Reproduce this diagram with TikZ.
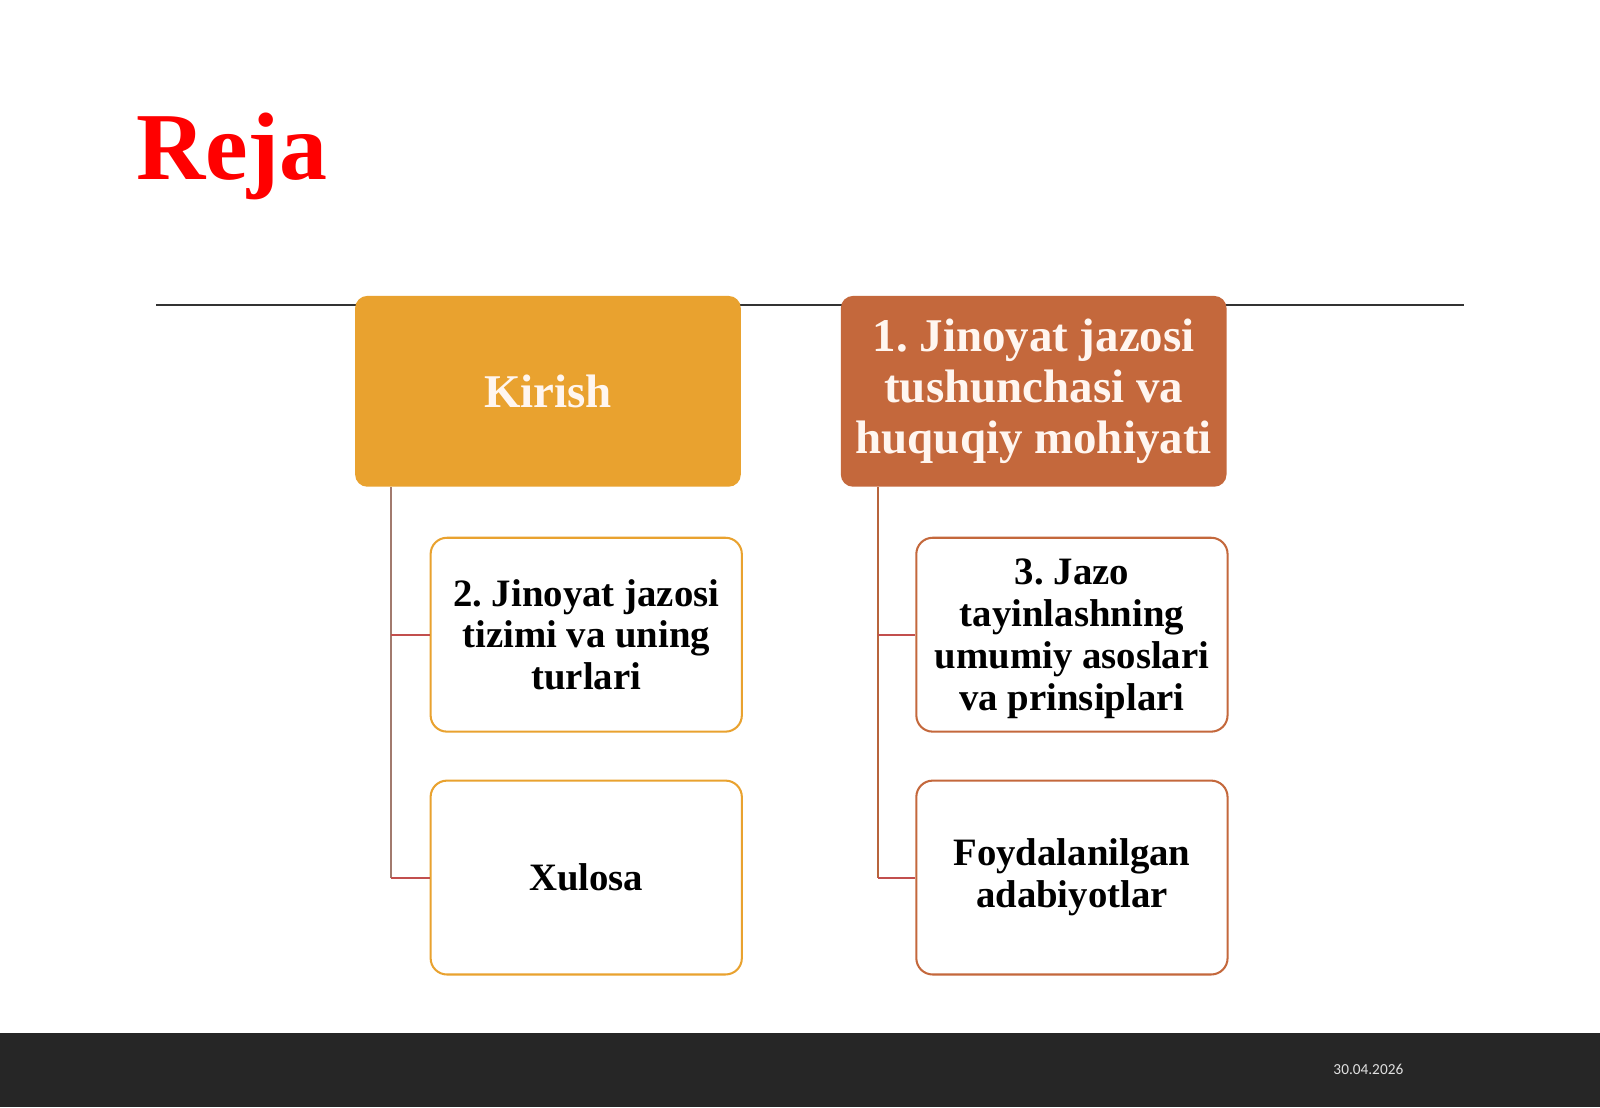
\documentclass[tikz,border=0pt]{standalone}
\usepackage{fontspec}
\setmainfont{Liberation Serif}
\newfontfamily\datefont{Carlito}
\usetikzlibrary{calc}
\definecolor{gold}{HTML}{E9A22F}
\definecolor{rust}{HTML}{C4683C}
\definecolor{lighttext}{HTML}{FFF6F0}
\definecolor{footerbg}{HTML}{262626}
\definecolor{leftvline}{HTML}{A27A6E}
\definecolor{rightvline}{HTML}{B8643C}
\definecolor{branch}{HTML}{C24F4D}
\definecolor{ruleline}{HTML}{333333}
\frenchspacing
\begin{document}
\begin{tikzpicture}[x=0.5pt,y=-0.5pt,
  topbox/.style={rounded corners=6pt, minimum width=189pt, minimum height=93.5pt,
    inner sep=0pt, align=center, text=lighttext,
    font=\fontsize{23}{25}\selectfont\bfseries},
  subbox/.style={rounded corners=8pt, minimum width=152.5pt, minimum height=95pt,
    inner sep=0pt, align=center, fill=white, line width=1pt, text=black,
    font=\fontsize{19}{20.5}\selectfont\bfseries},
  conn/.style={line width=1pt}]
\useasboundingbox (0,0) rectangle (1568,1085);
\fill[white] (0,0) rectangle (1568,1085);
\fill[footerbg] (0,1012) rectangle (1568,1085);
\node[anchor=base west, inner sep=0pt, text=red, font=\fontsize{47}{50}\selectfont\bfseries] (title) at (133,176) {Reja};
\node[text=white!88!black, font=\datefont\fontsize{7.5}{8}\selectfont, inner sep=0pt] (date) at (1341,1048) {30.04.2026};

% rule behind top boxes
\coordinate (rl) at (153,299);
\coordinate (rr) at (1435,299);
\draw[ruleline, line width=1pt] (rl) -- (rr);

\node[topbox, fill=gold] (kir) at (537,383.5) {Kirish};
\node[topbox, fill=rust] (one) at (1013,383.5) {1. Jinoyat jazosi\\tushunchasi va\\huquqiy mohiyati};

\node[subbox, draw=gold] (two) at (574.5,622) {2. Jinoyat jazosi\\tizimi va uning\\turlari};
\node[subbox, draw=gold] (xul) at (574.5,860) {Xulosa};
\node[subbox, draw=rust, text depth=0pt] (three) at (1050.5,622) {3. Jazo\\tayinlashning\\umumiy asoslari\\va prinsiplari};
\node[subbox, draw=rust] (foy) at (1050.5,860) {Foydalanilgan\\adabiyotlar};

\coordinate (lk) at ($(kir.south west)+(36,0)$);
\coordinate (rk) at ($(one.south west)+(37,0)$);
\draw[conn, leftvline] (lk) -- (lk |- xul.west);
\draw[conn, branch] (lk |- two.west) -- (two.west);
\draw[conn, branch] (lk |- xul.west) -- (xul.west);
\draw[conn, rightvline] (rk) -- (rk |- foy.west);
\draw[conn, branch] (rk |- three.west) -- (three.west);
\draw[conn, branch] (rk |- foy.west) -- (foy.west);
\end{tikzpicture}
\end{document}
